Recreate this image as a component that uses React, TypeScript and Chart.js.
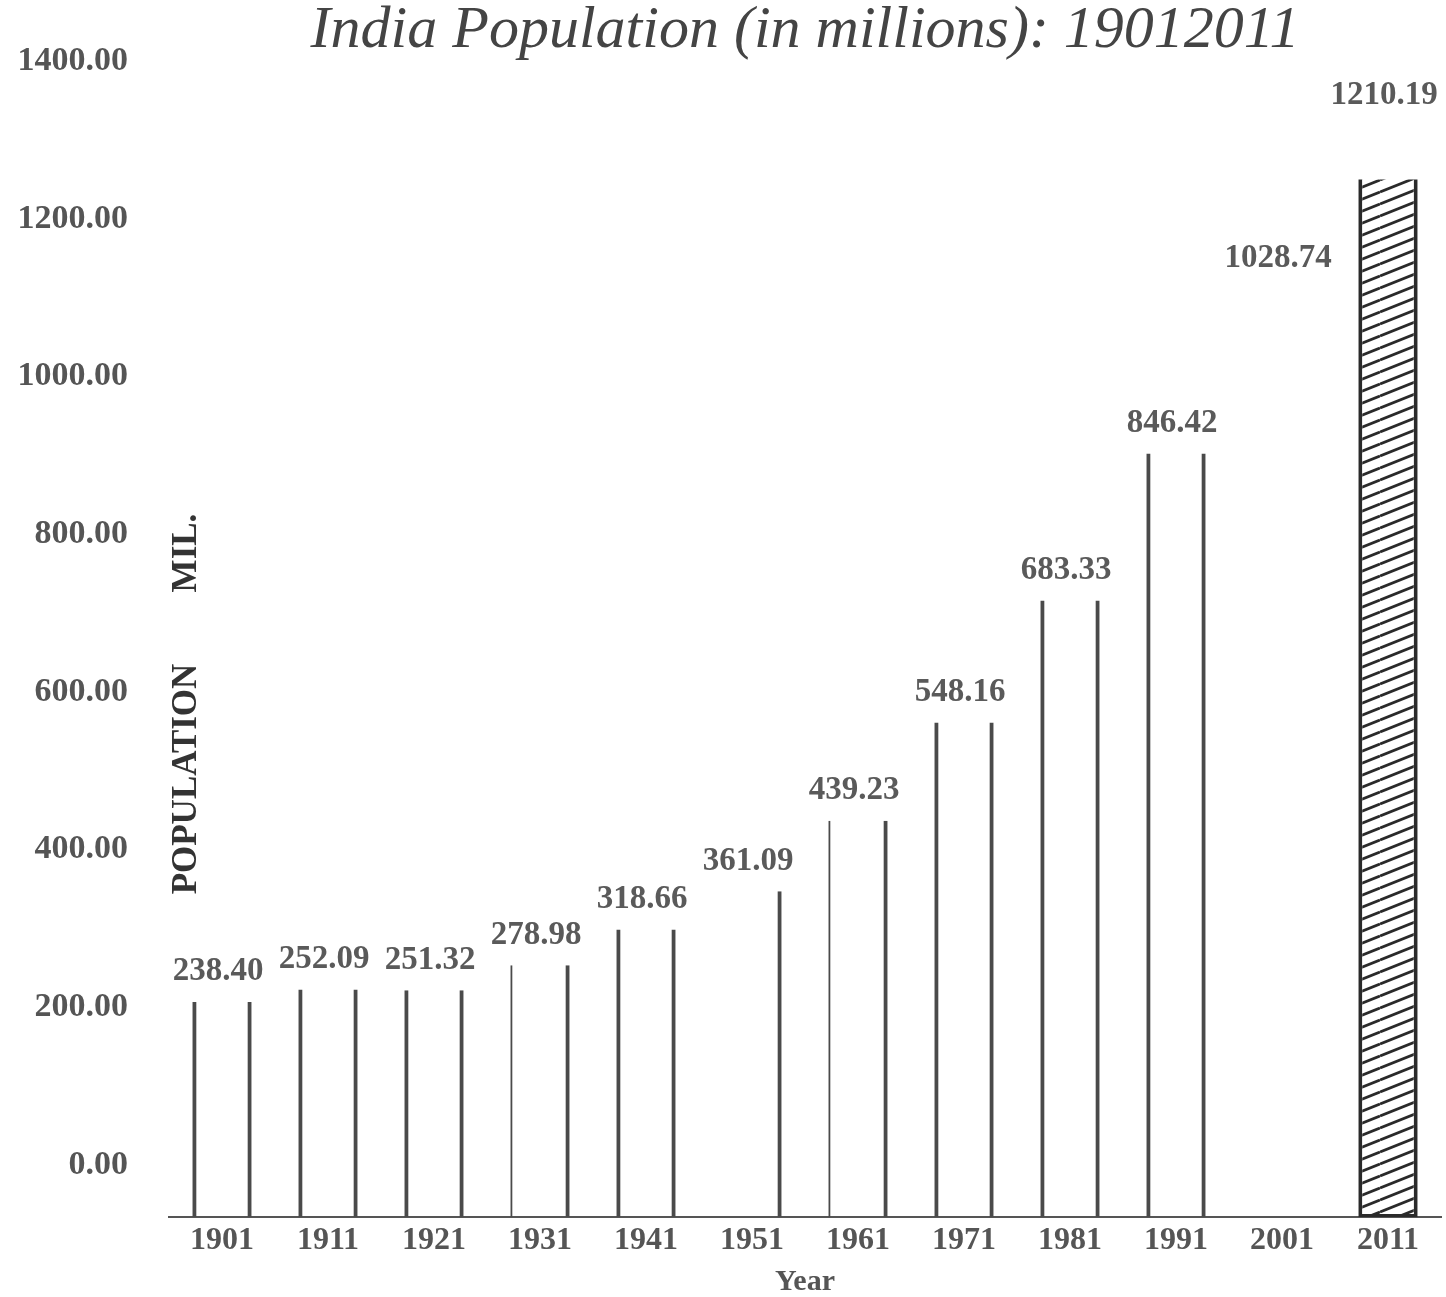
import React, { useEffect, useRef } from "react";
import { Chart, registerables } from "chart.js";

Chart.register(...registerables);

// ---- data ----
const years = ["1901", "1911", "1921", "1931", "1941", "1951", "1961", "1971", "1981", "1991", "2001", "2011"];
const population = [238.4, 252.09, 251.32, 278.98, 318.66, 361.09, 439.23, 548.16, 683.33, 846.42, 1028.74, 1210.19];
const yTickValues = [0, 200, 400, 600, 800, 1000, 1200, 1400];
const titleText = "India Population (in millions): 19012011";
const yTitleParts = ["POPULATION", "MIL."];
const xTitleText = "Year";

const SERIF = '"Liberation Serif", "Times New Roman", serif';
const LINE = "#4a4a4a";

function makeHatch(): CanvasPattern | string {
  const c = document.createElement("canvas");
  c.width = 60;
  c.height = 12;
  const g = c.getContext("2d");
  if (!g) return "#ccc";
  g.fillStyle = "#ffffff";
  g.fillRect(0, 0, 60, 12);
  g.strokeStyle = "#2a2a2a";
  g.lineWidth = 2.8;
  for (let k = 0; k <= 3; k++) {
    g.beginPath();
    g.moveTo(0, k * 12);
    g.lineTo(60, k * 12 - 24);
    g.stroke();
  }
  return g.createPattern(c, "repeat") || "#ccc";
}

const valueLabels = {
  id: "valueLabels",
  afterDatasetsDraw(chart: any) {
    const meta = chart.getDatasetMeta(0);
    const data = chart.data.datasets[0].data as number[];
    const ctx = chart.ctx;
    ctx.save();
    ctx.font = `bold 33px ${SERIF}`;
    ctx.fillStyle = "#5a5a5a";
    ctx.textAlign = "center";
    ctx.textBaseline = "middle";
    meta.data.forEach((el: any, i: number) => {
      const p = el.getProps(["x", "y"], true);
      ctx.fillText(Number(data[i]).toFixed(2), p.x - 4, p.y - 30);
    });
    ctx.restore();
  },
};

const yTitle = {
  id: "yTitle",
  afterDraw(chart: any) {
    const ctx = chart.ctx;
    const x = chart.chartArea.left + 18;
    ctx.save();
    ctx.font = `bold 35px ${SERIF}`;
    ctx.fillStyle = "#333333";
    ctx.textAlign = "center";
    ctx.textBaseline = "middle";
    const centers = [779, 553];
    yTitleParts.forEach((t, i) => {
      ctx.save();
      ctx.translate(x, centers[i]);
      ctx.rotate(-Math.PI / 2);
      ctx.fillText(t, 0, 0);
      ctx.restore();
    });
    ctx.restore();
  },
};

export default function App() {
  const ref = useRef<HTMLCanvasElement | null>(null);

  useEffect(() => {
    document.body.style.margin = "0";
    const canvas = ref.current;
    if (!canvas) return;
    const hatch = makeHatch();
    const last = population.length - 1;

    const borderFor = (i: number) => {
      if (i === last) return { left: 4, right: 4, top: 0, bottom: 3 };
      if (years[i] === "2001") return 0;
      if (years[i] === "1951") return { left: 0, right: 4, top: 0, bottom: 0 };
      if (years[i] === "1931" || years[i] === "1961") return { left: 2, right: 4, top: 0, bottom: 0 };
      return { left: 4, right: 4, top: 0, bottom: 0 };
    };

    const chart = new Chart(canvas, {
      type: "bar",
      data: {
        labels: years,
        datasets: [
          {
            label: "Population",
            data: population,
            yAxisID: "y",
            backgroundColor: (c: any) => (c.dataIndex === last ? hatch : "rgba(0,0,0,0)"),
            borderColor: (c: any) => (c.dataIndex === last ? "#2a2a2a" : LINE),
            borderWidth: (c: any) => borderFor(c.dataIndex) as any,
            borderSkipped: false,
            barPercentage: 0.56,
            categoryPercentage: 1,
            clip: { left: 20, right: 20, bottom: 20, top: -118 } as any,
          },
        ],
      },
      options: {
        responsive: false,
        animation: false,
        layout: { padding: { left: 0, right: 5, top: 0, bottom: 0 } },
        plugins: {
          legend: { display: false },
          tooltip: { enabled: false },
          title: {
            display: true,
            text: titleText,
            fullSize: false,
            color: "#444444",
            font: { family: SERIF, style: "italic", size: 60, weight: "normal", lineHeight: 1 },
            padding: { top: 0, bottom: 0 },
          },
        },
        scales: {
          x: {
            type: "category",
            offset: true,
            grid: { display: false, drawTicks: false },
            border: { display: true, color: "#555555", width: 2 },
            ticks: {
              color: "#555555",
              padding: 8,
              font: { family: SERIF, size: 32, weight: "bold", lineHeight: 1 },
              maxRotation: 0,
              autoSkip: false,
            },
            title: {
              display: true,
              text: xTitleText,
              color: "#555555",
              font: { family: SERIF, size: 30, weight: "bold", lineHeight: 1 },
              padding: { top: 2, bottom: 0 },
            },
          },
          y: {
            type: "linear",
            display: false,
            min: 0,
            max: 1281,
          },
          y2: {
            type: "linear",
            position: "left",
            min: -66,
            max: 1400,
            grid: { display: false, drawTicks: false },
            border: { display: false },
            afterBuildTicks: (scale: any) => {
              scale.ticks = yTickValues.map((v) => ({ value: v }));
            },
            afterFit: (scale: any) => {
              scale.width = 169;
            },
            ticks: {
              color: "#555555",
              padding: 41,
              font: { family: SERIF, size: 34, weight: "bold" },
              callback: (v: any) => Number(v).toFixed(2),
            },
          },
        },
      },
      plugins: [valueLabels, yTitle],
    });

    return () => chart.destroy();
  }, []);

  return (
    <div style={{ width: 1446, height: 1297, background: "#ffffff" }}>
      <canvas ref={ref} width={1446} height={1297} style={{ display: "block" }} />
    </div>
  );
}
